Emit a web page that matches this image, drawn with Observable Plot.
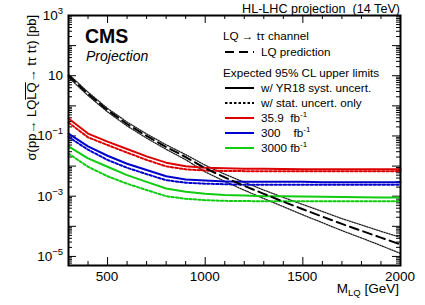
<!DOCTYPE html>
<html><head><meta charset="utf-8">
<script src="https://cdn.jsdelivr.net/npm/d3@7"></script>
<script src="https://cdn.jsdelivr.net/npm/@observablehq/plot@0.6"></script>
<style>
body{margin:0;background:#fff}
</style></head>
<body><div id="chart"></div>
<script>
// ---- data ----
const masses = [300,400,500,600,700,800,900,1000,1100,1200,1300,1400,1500,1600,1700,1800,1900,2000];
const theory     = [10,2.5,0.72,0.25,0.1,0.043,0.02,0.0085,0.0042,0.0022,0.0012,0.00066,0.00037,0.00021,0.00012,7.1e-5,4.2e-5,2.5e-5];
const theoryUp   = [11.3,2.85,0.82,0.29,0.117,0.051,0.024,0.0107,0.0054,0.0029,0.0016,0.00091,0.00053,0.00031,0.00018,0.000111,6.8e-5,4.3e-5];
const theoryDown = [8.8,2.2,0.63,0.215,0.085,0.036,0.0163,0.0064,0.0031,0.00158,0.00084,0.00045,0.00024,0.000132,7.2e-5,4.1e-5,2.3e-5,1.25e-5];
const lim359Syst  = [0.38,0.12,0.065,0.037,0.021,0.013,0.0098,0.0088,0.0084,0.0082,0.0081,0.008,0.0079,0.0079,0.0079,0.0079,0.0079,0.0079];
const lim359Stat  = [0.28,0.09,0.05,0.028,0.016,0.0098,0.0078,0.0071,0.0069,0.0068,0.0068,0.0067,0.0067,0.0067,0.0067,0.0067,0.0067,0.0067];
const lim300Syst  = [0.12,0.045,0.022,0.012,0.0074,0.0046,0.0036,0.0033,0.0031,0.003,0.003,0.003,0.003,0.0029,0.0029,0.0029,0.0029,0.0029];
const lim300Stat  = [0.093,0.035,0.016,0.0088,0.0054,0.0034,0.0028,0.0026,0.0025,0.0024,0.0024,0.0024,0.0024,0.0024,0.0024,0.0024,0.0024,0.0024];
const lim3000Syst = [0.045,0.018,0.0095,0.005,0.003,0.0018,0.0014,0.0012,0.0011,0.00105,0.001,0.001,0.00098,0.00096,0.00094,0.00092,0.0009,0.0009];
const lim3000Stat = [0.026,0.0095,0.0046,0.0026,0.0016,0.001,0.00082,0.00074,0.0007,0.00069,0.00068,0.00068,0.00068,0.00068,0.00068,0.00068,0.00068,0.00068];
const lumiLabels = ["35.9","300","3000"];
const lumiColors = ["#dd0000","#0000cc","#11cc11"];
const xTickLabels = [500,1000,1500,2000];
const yLabelExps = [3,1,-1,-3,-5];

// ---- derived tables ----
const theoryRows = masses.map((m,i)=>({m, c:theory[i], up:theoryUp[i], down:theoryDown[i]}));
const systSets = [lim359Syst, lim300Syst, lim3000Syst];
const statSets = [lim359Stat, lim300Stat, lim3000Stat];
const limitRows = [];
lumiLabels.forEach((l,k)=>masses.forEach((m,i)=>{
  limitRows.push({m, lumi:l, kind:"syst", v:systSets[k][i]});
  limitRows.push({m, lumi:l, kind:"stat", v:statSets[k][i]});
}));

const FONT = '"Liberation Sans", Arial, Helvetica, sans-serif';
const W=425,H=305,mL=68,mR=25,mT=15,mB=40;
const xMin=300,xMax=2000,yMin=5e-6,yMax=1000;
const ph = H-mT-mB, pw = W-mL-mR;
const xMinor = d3.range(xMin, xMax+1, 100).filter(v=>!xTickLabels.includes(v));
const yMajor = d3.range(-5,4).map(e=>Math.pow(10,e));
const yMinor = [];
for (let e=-6;e<3;e++) for (let k=2;k<10;k++){const v=k*Math.pow(10,e); if(v>=yMin&&v<=yMax) yMinor.push(v);}
const majL=8, minL=4;

const plot = Plot.plot({
  width:W, height:H, marginLeft:mL, marginRight:mR, marginTop:mT, marginBottom:mB,
  x:{domain:[xMin,xMax], axis:null},
  y:{type:"log", domain:[yMin,yMax], axis:null},
  color:{domain:lumiLabels, range:lumiColors},
  style:{background:"white", overflow:"visible", fontFamily:FONT},
  marks:[
    Plot.tickX(xTickLabels,{x:d=>d, insetTop:ph-majL, stroke:"black", strokeWidth:1}),
    Plot.tickX(xTickLabels,{x:d=>d, insetBottom:ph-majL, stroke:"black", strokeWidth:1}),
    Plot.tickX(xMinor,{x:d=>d, insetTop:ph-minL, stroke:"black", strokeWidth:1}),
    Plot.tickX(xMinor,{x:d=>d, insetBottom:ph-minL, stroke:"black", strokeWidth:1}),
    Plot.tickY(yMajor,{y:d=>d, insetRight:pw-majL, stroke:"black", strokeWidth:1}),
    Plot.tickY(yMajor,{y:d=>d, insetLeft:pw-majL, stroke:"black", strokeWidth:1}),
    Plot.tickY(yMinor,{y:d=>d, insetRight:pw-minL, stroke:"black", strokeWidth:1}),
    Plot.tickY(yMinor,{y:d=>d, insetLeft:pw-minL, stroke:"black", strokeWidth:1}),
    Plot.line(theoryRows,{x:"m", y:"up", stroke:"#222", strokeWidth:1.3, strokeDasharray:"1.3,1.3"}),
    Plot.line(theoryRows,{x:"m", y:"down", stroke:"#222", strokeWidth:1.3, strokeDasharray:"1.3,1.3"}),
    Plot.line(limitRows.filter(d=>d.kind==="stat"),{x:"m", y:"v", z:"lumi", stroke:"lumi", strokeWidth:2, strokeDasharray:"2.5,2"}),
    Plot.line(limitRows.filter(d=>d.kind==="syst"),{x:"m", y:"v", z:"lumi", stroke:"lumi", strokeWidth:2}),
    Plot.line(theoryRows,{x:"m", y:"c", stroke:"black", strokeWidth:2, strokeDasharray:"9,5"}),
    Plot.frame({stroke:"black", strokeWidth:2})
  ]
});
document.getElementById("chart").appendChild(plot);

const svg = d3.select(plot);
const root = svg.append("g").attr("font-family",FONT).attr("text-anchor","start").attr("fill","black");
const xs = plot.scale("x"), ys = plot.scale("y");
const fs = 13.5;

root.append("text").attr("x",400).attr("y",12.5).attr("text-anchor","end")
  .attr("font-size",12.6).style("white-space","pre").text("HL-LHC projection  (14 TeV)");
root.append("text").attr("x",85).attr("y",43).attr("font-size",19.5).attr("font-weight","bold").text("CMS");
root.append("text").attr("x",86).attr("y",61).attr("font-size",14).attr("font-style","italic").text("Projection");

xTickLabels.forEach(v=>{
  root.append("text").attr("x",xs.apply(v)).attr("y",281).attr("text-anchor","middle")
    .attr("font-size",fs).text(String(v));
});
const xl = root.append("text").attr("x",399).attr("y",293).attr("text-anchor","end").attr("font-size",fs);
xl.append("tspan").text("M");
xl.append("tspan").attr("font-size",9.5).attr("dy",3).text("LQ");
xl.append("tspan").attr("dy",-3).style("white-space","pre").text(" [GeV]");

yLabelExps.forEach(e=>{
  const py = ys.apply(Math.pow(10,e));
  const t = root.append("text").attr("x",63).attr("y",py+5).attr("text-anchor","end").attr("font-size",fs);
  if (e===1) { t.text("10"); }
  else {
    t.append("tspan").text("10");
    t.append("tspan").attr("font-size",9.5).attr("dy",-6).text(e<0 ? "\u2212"+(-e) : String(e));
  }
});

const gy = root.append("g").attr("transform","translate(36,15) rotate(-90)");
const yLabelText = "\u03c3(pp\u2192 LQLQ\u2192 t\u03c4 t\u03c4) [pb]";
const yt = gy.append("text").attr("x",0).attr("y",0).attr("text-anchor","end").attr("font-size",13)
  .style("white-space","pre").text(yLabelText);
const ol0 = yLabelText.indexOf("LQLQ")+2;
const node = yt.node();
const sx = node.getStartPositionOfChar(ol0).x, ex = node.getEndPositionOfChar(ol0+1).x;
gy.append("line").attr("x1",sx).attr("x2",ex).attr("y1",-10.5).attr("y2",-10.5).attr("stroke","black").attr("stroke-width",1);

const lg = root.append("g").attr("font-size",11.7);
const lx0=225, lx1=254, tx=261, hx=223;
lg.append("text").attr("x",hx).attr("y",40).text("LQ \u2192 t\u03c4 channel");
lg.append("line").attr("x1",lx0).attr("x2",lx1).attr("y1",52).attr("y2",52).attr("stroke","black").attr("stroke-width",2).attr("stroke-dasharray","9,5");
lg.append("text").attr("x",tx).attr("y",56).text("LQ prediction");
lg.append("text").attr("x",hx).attr("y",77).text("Expected 95% CL upper limits");
const items = [
  {y:92, color:"black", dash:null, label:"w/ YR18 syst. uncert."},
  {y:107, color:"black", dash:"2.5,2", label:"w/ stat. uncert. only"},
  {y:122, color:lumiColors[0], dash:null, label:lumiLabels[0]+"  fb"},
  {y:137, color:lumiColors[1], dash:null, label:lumiLabels[1]+"    fb"},
  {y:152, color:lumiColors[2], dash:null, label:lumiLabels[2]+" fb"}
];
items.forEach((it,i)=>{
  const l = lg.append("line").attr("x1",lx0).attr("x2",lx1).attr("y1",it.y-4).attr("y2",it.y-4)
    .attr("stroke",it.color).attr("stroke-width",2);
  if (it.dash) l.attr("stroke-dasharray",it.dash);
  const t = lg.append("text").attr("x",tx).attr("y",it.y).style("white-space","pre");
  t.append("tspan").text(it.label);
  if (i>=2) t.append("tspan").attr("font-size",8).attr("dy",-5).text("-1");
});
</script></body></html>
